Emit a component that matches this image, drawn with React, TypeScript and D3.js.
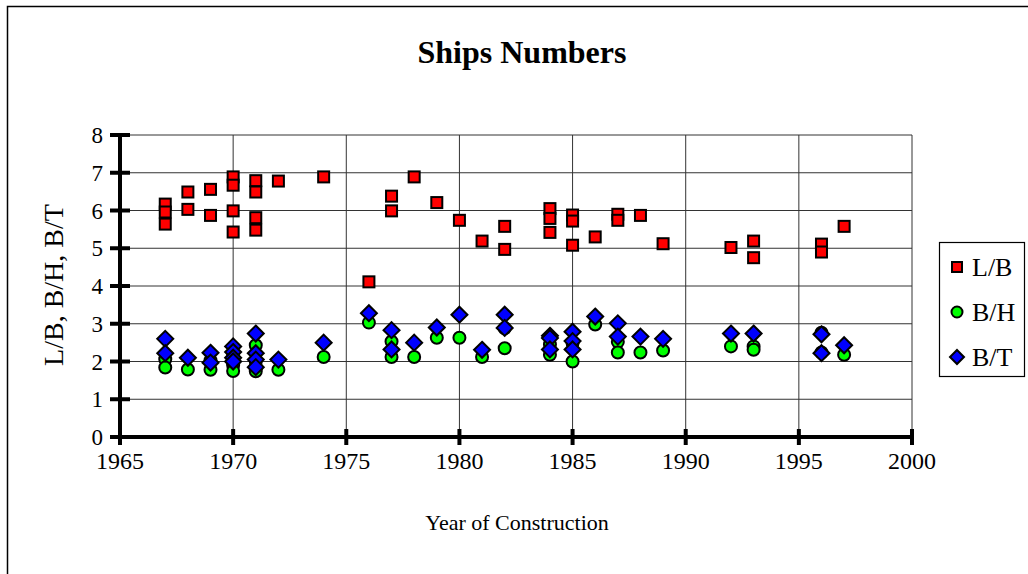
import React from "react";
import * as d3 from "d3";

const lbYears = [1967,1967,1967,1968,1968,1969,1969,1970,1970,1970,1970,1971,1971,1971,1971,1972,1974,1976,1977,1977,1978,1979,1980,1981,1982,1982,1984,1984,1984,1985,1985,1985,1986,1987,1987,1988,1989,1992,1993,1993,1996,1996,1997];
const lbValues = [6.17,5.96,5.64,6.49,6.03,6.56,5.87,6.89,6.67,5.99,5.43,6.79,6.49,5.81,5.48,6.78,6.89,4.11,6.38,5.99,6.89,6.21,5.74,5.19,5.58,4.97,6.05,5.79,5.42,5.88,5.72,5.08,5.30,5.90,5.74,5.87,5.12,5.02,5.19,4.75,5.11,4.90,5.58];

const bhYears = [1967,1967,1968,1969,1969,1970,1970,1970,1970,1971,1971,1971,1971,1972,1974,1976,1977,1977,1978,1979,1980,1981,1982,1982,1984,1984,1985,1985,1986,1987,1987,1988,1989,1992,1993,1993,1996,1996,1997];
const bhValues = [2.06,1.84,1.79,2.03,1.78,2.2,1.98,1.90,1.75,2.43,2.0,1.85,1.74,1.78,2.12,3.03,2.53,2.12,2.12,2.63,2.63,2.12,2.88,2.35,2.45,2.18,2.49,2.00,2.98,2.52,2.24,2.24,2.29,2.40,2.40,2.31,2.76,2.24,2.18];

const btYears = [1967,1967,1968,1969,1969,1970,1970,1970,1970,1971,1971,1971,1971,1972,1974,1976,1977,1977,1978,1979,1980,1981,1982,1982,1984,1984,1984,1985,1985,1985,1986,1987,1987,1988,1989,1992,1993,1996,1996,1997];
const btValues = [2.60,2.22,2.10,2.23,1.97,2.40,2.25,2.10,2.0,2.74,2.22,2.05,1.85,2.05,2.50,3.28,2.83,2.32,2.50,2.90,3.24,2.31,3.24,2.89,2.68,2.62,2.32,2.79,2.54,2.32,3.19,3.01,2.66,2.66,2.60,2.74,2.74,2.72,2.22,2.43];

const xTicks = [1965,1970,1975,1980,1985,1990,1995,2000];
const yTicks = [0,1,2,3,4,5,6,7,8];
const seriesNames = ["L/B","B/H","B/T"];
const titleText = "Ships Numbers";
const xLabel = "Year of Construction";
const yLabel = "L/B, B/H, B/T";

const FONT = "'Liberation Serif', 'Times New Roman', serif";

export default function App() {
  const x = d3.scaleLinear().domain([1965, 2000]).range([120, 912]);
  const y = d3.scaleLinear().domain([0, 8]).range([437, 135]);

  const square = (cx: number, cy: number, key: string, s = 11) => (
    <rect key={key} x={cx - s / 2} y={cy - s / 2} width={s} height={s} fill="#ff0000" stroke="#000" strokeWidth={2} />
  );
  const circle = (cx: number, cy: number, key: string, r = 6) => (
    <circle key={key} cx={cx} cy={cy} r={r} fill="#00ff00" stroke="#000" strokeWidth={2} />
  );
  const diamond = (cx: number, cy: number, key: string, r = 8) => (
    <path key={key} d={`M${cx},${cy - r}L${cx + r},${cy}L${cx},${cy + r}L${cx - r},${cy}Z`} fill="#0000ff" stroke="#000" strokeWidth={2} />
  );

  const legendY = [267, 312, 357];

  return (
    <svg width={1028} height={574} style={{ position: "absolute", left: 0, top: 0, background: "#fff" }} fontFamily={FONT}>
      <rect x={7.5} y={6.5} width={1040} height={600} fill="#fff" stroke="#000" strokeWidth={1.5} />
      <text x={522} y={63} textAnchor="middle" fontSize={32} fontWeight="bold">{titleText}</text>

      {yTicks.map((t) => (
        <line key={"gy" + t} x1={120} x2={912} y1={y(t)} y2={y(t)} stroke="#333" strokeWidth={1} />
      ))}
      {xTicks.map((t) => (
        <line key={"gx" + t} x1={x(t)} x2={x(t)} y1={y(8)} y2={y(0)} stroke="#333" strokeWidth={1} />
      ))}

      <line x1={120} x2={120} y1={y(8)} y2={y(0)} stroke="#000" strokeWidth={4} />
      <line x1={118} x2={914} y1={y(0)} y2={y(0)} stroke="#000" strokeWidth={4} />
      {yTicks.map((t) => (
        <line key={"ty" + t} x1={110} x2={130} y1={y(t)} y2={y(t)} stroke="#000" strokeWidth={4} />
      ))}
      {xTicks.map((t) => (
        <line key={"tx" + t} x1={x(t)} x2={x(t)} y1={y(0) - 8} y2={y(0) + 8} stroke="#000" strokeWidth={4} />
      ))}
      {yTicks.map((t) => (
        <text key={"ly" + t} x={103} y={y(t) + 8} textAnchor="end" fontSize={23}>{t}</text>
      ))}
      {xTicks.map((t) => (
        <text key={"lx" + t} x={x(t)} y={469} textAnchor="middle" fontSize={24}>{t}</text>
      ))}
      <text x={517} y={530} textAnchor="middle" fontSize={22}>{xLabel}</text>
      <text transform="translate(53,285) rotate(-90)" textAnchor="middle" dy="0.35em" fontSize={28}>{yLabel}</text>

      {lbYears.map((yr, i) => square(x(yr), y(lbValues[i]), "lb" + i))}
      {bhYears.map((yr, i) => circle(x(yr), y(bhValues[i]), "bh" + i))}
      {btYears.map((yr, i) => diamond(x(yr), y(btValues[i]), "bt" + i))}

      <rect x={939.5} y={242.5} width={85} height={134} fill="#fff" stroke="#000" strokeWidth={1.2} />
      {square(957, legendY[0], "lg0", 10)}
      {circle(957, legendY[1], "lg1", 5.5)}
      {diamond(957, legendY[2], "lg2", 7)}
      {seriesNames.map((n, i) => (
        <text key={"ln" + i} x={972} y={legendY[i]} dy="0.35em" fontSize={26}>{n}</text>
      ))}
    </svg>
  );
}
